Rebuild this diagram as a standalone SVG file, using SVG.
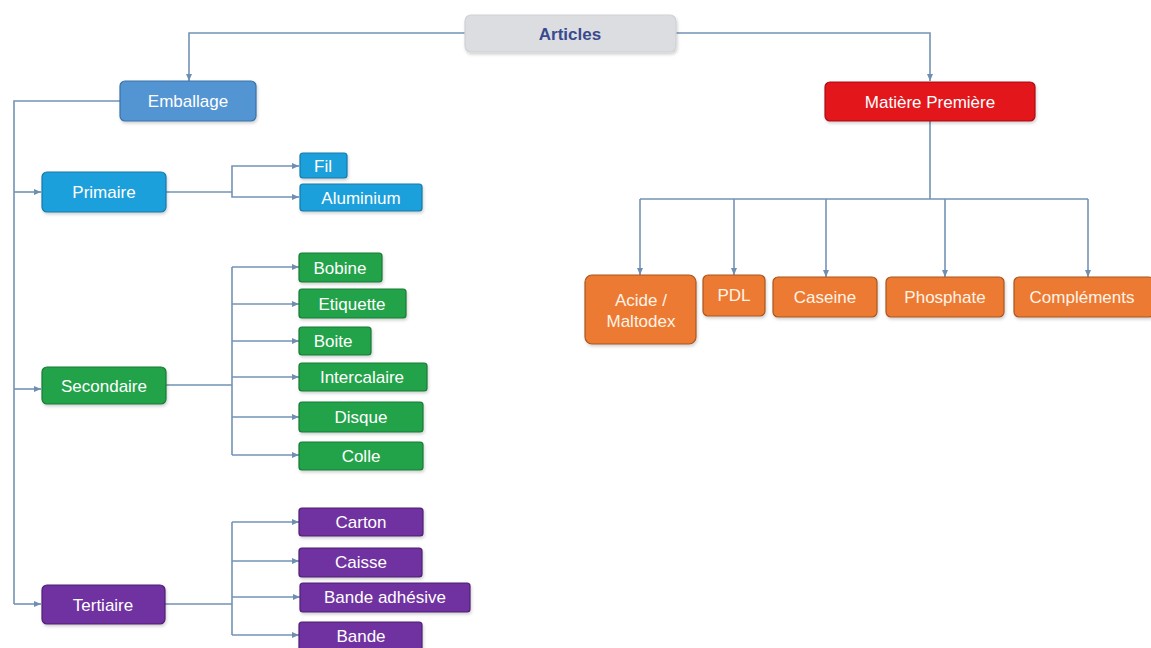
<svg xmlns="http://www.w3.org/2000/svg" width="1151" height="648" viewBox="0 0 1151 648">
<defs>
<marker id="arr" markerUnits="userSpaceOnUse" markerWidth="8" markerHeight="8" viewBox="0 0 8 8" refX="7" refY="4" orient="auto">
<path d="M0,1 L7,4 L0,7 Z" fill="#6f8fb2"/>
</marker>
<filter id="sh" x="-10%" y="-20%" width="120%" height="150%">
<feDropShadow dx="1" dy="2" stdDeviation="1.5" flood-color="#000" flood-opacity="0.18"/>
</filter>
<style>
.c{fill:none;stroke:#7393b5;stroke-width:1.6}
.a{marker-end:url(#arr)}
.n rect{filter:url(#sh);stroke-width:1.2}
.n text{font-family:"Liberation Sans",Arial,sans-serif;font-size:17px;fill:#fff;text-anchor:middle;dominant-baseline:central}
.gray rect{fill:#dcdde1;stroke:#cfd1d5}
.gray text{fill:#3a4a8e;font-weight:bold;font-size:17px}
.emb rect{fill:#5294d3;stroke:#3a72a8}
.pri rect{fill:#1fa0dc;stroke:#1679ab}
.sec rect{fill:#22a34a;stroke:#177a35}
.ter rect{fill:#7030a0;stroke:#4e1f73}
.red rect{fill:#e3141b;stroke:#a90e13}
.org rect{fill:#ec7a31;stroke:#a95620}
.org text{fill:#fff3e6}
</style>
</defs>
<rect width="1151" height="648" fill="#ffffff"/>
<g id="connectors">
<path class="c a" d="M465,33 H189 V81"/>
<path class="c a" d="M676,33 H930 V81"/>
<path class="c" d="M120,101 H14 V604"/>
<path class="c a" d="M14,192 H41"/>
<path class="c a" d="M14,389 H41"/>
<path class="c a" d="M14,604 H41"/>
<path class="c" d="M166,192 H232"/>
<path class="c a" d="M232,192 V166 H299"/>
<path class="c a" d="M232,192 V197 H299"/>
<path class="c" d="M166,385 H232 M232,267 V455"/>
<path class="c a" d="M232,267 H299"/>
<path class="c a" d="M232,304 H299"/>
<path class="c a" d="M232,341 H299"/>
<path class="c a" d="M232,377 H299"/>
<path class="c a" d="M232,417 H299"/>
<path class="c a" d="M232,455 H299"/>
<path class="c" d="M165,604 H232 M232,522 V635"/>
<path class="c a" d="M232,522 H299"/>
<path class="c a" d="M232,561 H299"/>
<path class="c a" d="M232,597 H300"/>
<path class="c a" d="M232,635 H299"/>
<path class="c" d="M930,121 V199 M640,199 H1088"/>
<path class="c a" d="M640,199 V275"/>
<path class="c a" d="M734,199 V275"/>
<path class="c a" d="M826,199 V277"/>
<path class="c a" d="M945,199 V277"/>
<path class="c a" d="M1088,199 V277"/>
</g>
<g id="articles" class="n gray"><rect x="465" y="15" width="211" height="37" rx="6"/><text x="570" y="34">Articles</text></g>
<g id="emballage" class="n emb"><rect x="120" y="81" width="136" height="40" rx="5"/><text x="188" y="101">Emballage</text></g>
<g id="matiere" class="n red"><rect x="825" y="82" width="210" height="39" rx="5"/><text x="930" y="102">Matière Première</text></g>
<g id="primaire" class="n pri"><rect x="42" y="172" width="124" height="40" rx="5"/><text x="104" y="192">Primaire</text></g>
<g id="fil" class="n pri"><rect x="300" y="153" width="47" height="25" rx="3"/><text x="323" y="166">Fil</text></g>
<g id="aluminium" class="n pri"><rect x="300" y="184" width="122" height="27" rx="3"/><text x="361" y="198">Aluminium</text></g>
<g id="secondaire" class="n sec"><rect x="42" y="367" width="124" height="37" rx="5"/><text x="104" y="386">Secondaire</text></g>
<g id="bobine" class="n sec"><rect x="299" y="253" width="83" height="29" rx="3"/><text x="340" y="268">Bobine</text></g>
<g id="etiquette" class="n sec"><rect x="299" y="289" width="107" height="29" rx="3"/><text x="352" y="304">Etiquette</text></g>
<g id="boite" class="n sec"><rect x="299" y="327" width="72" height="28" rx="3"/><text x="333" y="341">Boite</text></g>
<g id="intercalaire" class="n sec"><rect x="299" y="363" width="128" height="28" rx="3"/><text x="362" y="377">Intercalaire</text></g>
<g id="disque" class="n sec"><rect x="299" y="402" width="124" height="30" rx="3"/><text x="361" y="417">Disque</text></g>
<g id="colle" class="n sec"><rect x="299" y="442" width="124" height="28" rx="3"/><text x="361" y="456">Colle</text></g>
<g id="tertiaire" class="n ter"><rect x="42" y="585" width="123" height="39" rx="5"/><text x="103" y="605">Tertiaire</text></g>
<g id="carton" class="n ter"><rect x="299" y="508" width="124" height="28" rx="3"/><text x="361" y="522">Carton</text></g>
<g id="caisse" class="n ter"><rect x="299" y="548" width="123" height="29" rx="3"/><text x="361" y="562">Caisse</text></g>
<g id="bande-adhesive" class="n ter"><rect x="300" y="583" width="170" height="29" rx="3"/><text x="385" y="597">Bande adhésive</text></g>
<g id="bande" class="n ter"><rect x="299" y="622" width="123" height="29" rx="3"/><text x="361" y="636">Bande</text></g>
<g id="acide" class="n org"><rect x="585" y="275" width="111" height="69" rx="7"/><text x="641" y="300">Acide /</text><text x="641" y="321">Maltodex</text></g>
<g id="pdl" class="n org"><rect x="703" y="275" width="62" height="41" rx="5"/><text x="734" y="295">PDL</text></g>
<g id="caseine" class="n org"><rect x="773" y="277" width="104" height="40" rx="5"/><text x="825" y="297">Caseine</text></g>
<g id="phosphate" class="n org"><rect x="886" y="277" width="118" height="40" rx="5"/><text x="945" y="297">Phosphate</text></g>
<g id="complements" class="n org"><rect x="1014" y="277" width="140" height="40" rx="5"/><text x="1082" y="297">Compléments</text></g>
</svg>
